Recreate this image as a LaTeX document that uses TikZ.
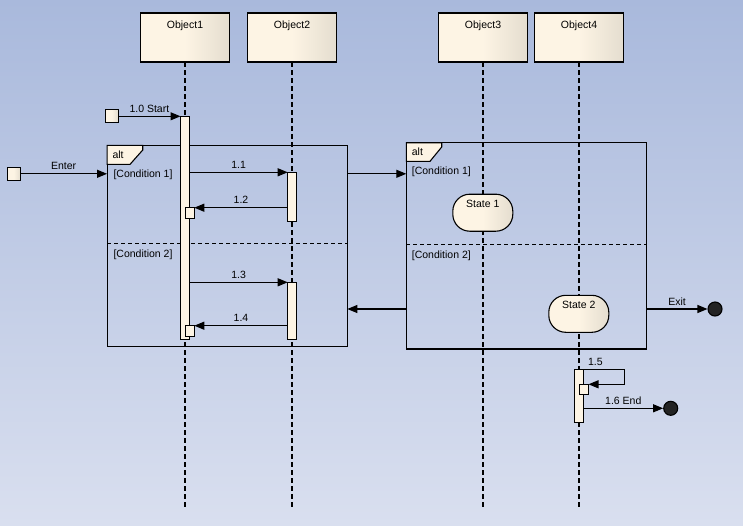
\documentclass[tikz,border=0pt]{standalone}
\usepackage{fontspec}
\setmainfont{Liberation Sans}
\usetikzlibrary{arrows.meta,calc}

\definecolor{bgtop}{RGB}{169,185,220}
\definecolor{bgbot}{RGB}{217,223,239}
\definecolor{cream}{RGB}{253,244,228}
\definecolor{beige}{RGB}{228,221,207}
\definecolor{dot}{RGB}{35,35,35}

\begin{document}
\begin{tikzpicture}[x=1pt,y=-1pt,line width=1.1pt,
  font=\fontsize{10.5}{12}\selectfont,
  object/.style={draw,inner sep=0pt,outer sep=0pt,minimum width=89pt,minimum height=49pt,
    left color=cream,right color=beige,middle color=cream},
  lifeline/.style={dash pattern=on 5pt off 3pt},
  bar/.style={draw,fill=cream,inner sep=0pt,outer sep=0pt,minimum width=9pt},
  gate/.style={draw,inner sep=0pt,outer sep=0pt,minimum size=13pt,
    left color=cream,right color=beige,middle color=cream},
  frame/.style={draw,inner sep=0pt,outer sep=0pt},
  tab/.style={draw,fill=cream},
  tag/.style={anchor=west,inner sep=0pt},
  state/.style={draw,rounded corners=17pt,inner sep=0pt,outer sep=0pt,
    minimum width=60pt,minimum height=37pt,
    left color=cream,right color=beige,middle color=cream},
  fin/.style={circle,draw,fill=dot,inner sep=0pt,minimum size=14pt},
  msg/.style={-{Triangle[length=10pt,width=8pt]}}]

  \shade[top color=bgtop,bottom color=bgbot] (0,0) rectangle (743,525);
  \useasboundingbox (0,0) rectangle (743,525);
  \coordinate (bot) at (0,508);

  % lifelines
  \node[object,label={[anchor=north,inner sep=0pt,yshift=-7pt]north:Object1}] (ob1) at (185,37.5) {};
  \node[object,label={[anchor=north,inner sep=0pt,yshift=-7pt]north:Object2}] (ob2) at (292,37.5) {};
  \node[object,label={[anchor=north,inner sep=0pt,yshift=-7pt]north:Object3}] (ob3) at (483,37.5) {};
  \node[object,label={[anchor=north,inner sep=0pt,yshift=-7pt]north:Object4}] (ob4) at (579,37.5) {};

  \draw[lifeline] (ob1.south) -- (ob1.south |- bot);
  \draw[lifeline] (ob2.south) -- (ob2.south |- bot);
  \draw[lifeline] (ob3.south) -- (ob3.south |- bot);
  \draw[lifeline] (ob4.south) -- (ob4.south |- bot);

  % fragments
  \node[frame,minimum width=240.3pt,minimum height=201pt] (fr1) at (227.2,245.8) {};
  \node[frame,minimum width=240.4pt,minimum height=206.3pt] (fr2) at (526.5,245.85) {};
  \draw[dash pattern=on 4pt off 3pt] ([yshift=2.5pt]fr1.west) -- ([yshift=2.5pt]fr1.east);
  \draw[dash pattern=on 4pt off 3pt] ([yshift=1.5pt]fr2.west) -- ([yshift=1.5pt]fr2.east);
  \draw[tab] (fr1.north west) -- ++(35.7,0) -- ++(0,4.7) -- ++(-12.7,14.3) -- ++(-23,0) -- cycle;
  \draw[tab] (fr2.north west) -- ++(35.4,0) -- ++(0,4.3) -- ++(-11.7,14.3) -- ++(-23.7,0) -- cycle;
  \node[tag] (alt1) at (112,154.5) {alt};
  \node[tag] (alt2) at (411.3,152) {alt};
  \node[tag] (c11) at (113,174.7) {[Condition 1]};
  \node[tag] (c12) at (113,255) {[Condition 2]};
  \node[tag] (c21) at (411.3,172) {[Condition 1]};
  \node[tag] (c22) at (411.3,255.7) {[Condition 2]};

  % states
  \node[state,label={[anchor=north,inner sep=0pt,yshift=-5pt]north:State 1}] (st1) at (482.8,212.7) {};
  \node[state,label={[anchor=north,inner sep=0pt,yshift=-5pt]north:State 2}] (st2) at (578.8,313.8) {};

  % activations
  \node[bar,minimum height=223pt] (act1) at (185,227.8) {};
  \node[bar,minimum height=49pt] (act2) at (292.2,196.8) {};
  \node[bar,minimum height=57pt] (act3) at (292.2,310.8) {};
  \node[bar,minimum height=53.4pt] (act4) at (579,396) {};
  \node[bar,minimum height=10.6pt] (ret12) at (189.8,213) {};
  \node[bar,minimum height=11pt] (ret14) at (189.8,331.2) {};
  \node[bar,minimum height=10pt] (ret15) at (584,389.3) {};

  \node[gate] (en0) at (13.8,173.8) {};
  \node[gate] (st0) at (111.7,115.7) {};
  \node[fin] (fin1) at (715,309) {};
  \node[fin] (fin2) at (670.7,408.3) {};

  % messages
  \draw[msg] (st0.east |- act1.north west) -- (act1.north west) node[midway,above] {1.0 Start};
  \draw[msg] (en0.east) -- (en0.east -| fr1.west) node[midway,above] {Enter};
  \draw[msg] (act1.east |- act2.north west) -- (act2.north west) node[midway,above] {1.1};
  \draw[msg] (act2.west |- ret12.north east) -- (ret12.north east) node[midway,above] {1.2};
  \draw[msg] (act1.east |- act3.north west) -- (act3.north west) node[midway,above] {1.3};
  \draw[msg] (act3.west |- ret14.north east) -- (ret14.north east) node[midway,above] {1.4};
  \draw[msg] (fr1.east |- en0) -- (fr2.west |- en0);
  \draw[msg] (fr2.west |- fin1) -- (fr1.east |- fin1);
  \draw[msg] (fr2.east |- fin1) -- (fin1) node[midway,above] {Exit};
  \draw[msg] (act4.north east) -- ++(41,0) node[pos=0.29,above] {1.5} |- (ret15.north east);
  \draw[msg] (act4.east |- fin2) -- (fin2) node[midway,above] {1.6 End};

\end{tikzpicture}
\end{document}
